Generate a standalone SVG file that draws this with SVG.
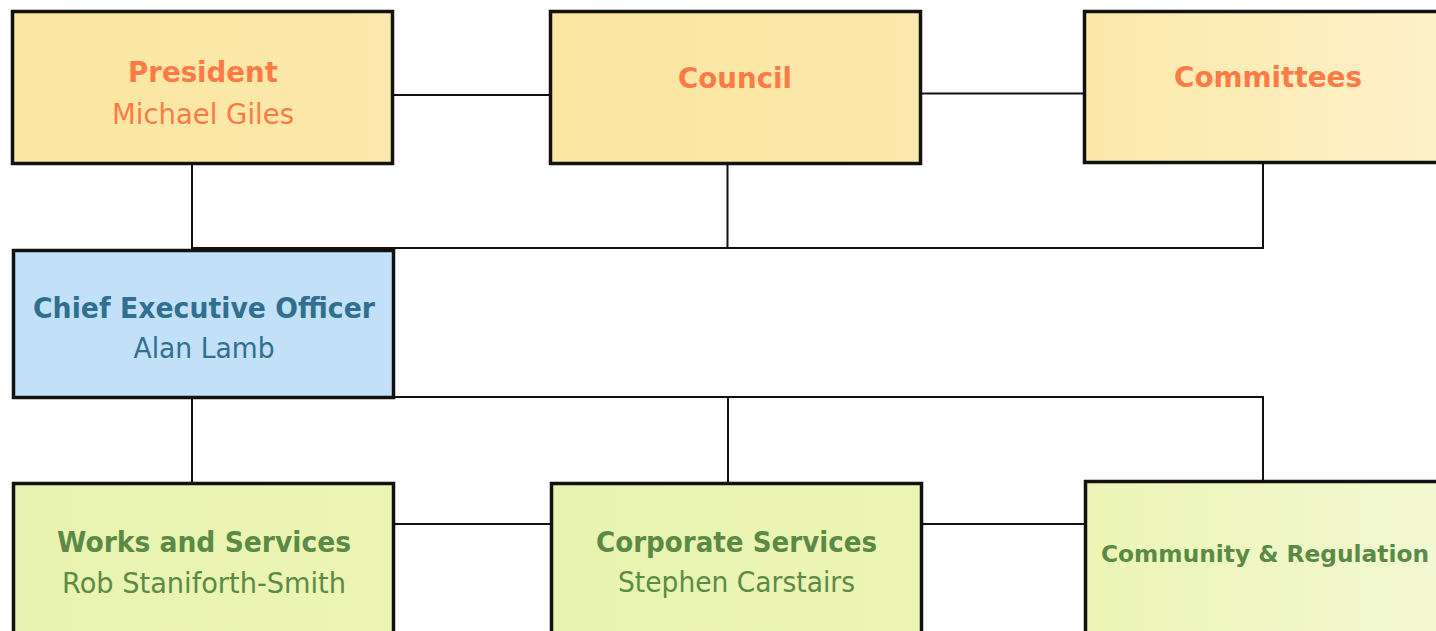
<svg xmlns="http://www.w3.org/2000/svg" width="1436" height="631" viewBox="0 0 1436 631">
<defs>
<linearGradient id="gy" x1="0" y1="0" x2="1" y2="0"><stop offset="0" stop-color="#fbe6a2"/><stop offset="1" stop-color="#fce9ab"/></linearGradient>
<linearGradient id="gy2" x1="0" y1="0" x2="1" y2="0"><stop offset="0" stop-color="#fce9a9"/><stop offset="1" stop-color="#fdf1c9"/></linearGradient>
<linearGradient id="gg" x1="0" y1="0" x2="1" y2="0"><stop offset="0" stop-color="#e9f3b0"/><stop offset="1" stop-color="#ecf5b4"/></linearGradient>
<linearGradient id="gg2" x1="0" y1="0" x2="1" y2="0"><stop offset="0" stop-color="#ecf5b6"/><stop offset="1" stop-color="#f3f8d2"/></linearGradient>
</defs>
<style>
.box{stroke:#111;stroke-width:3.5}
.conn line{stroke:#111;stroke-width:2}
text{font-family:"DejaVu Sans",Verdana,sans-serif;text-anchor:middle}
.b{font-weight:bold;font-size:29px}
.r{font-size:28px}
.o{fill:#ff7a45}
.bl{fill:#316f8e}
.gr{fill:#5b8a47}
</style>
<rect width="1436" height="631" fill="#ffffff"/>
<g id="connectors" class="conn">
<line x1="393" y1="95" x2="550" y2="95"/>
<line x1="921" y1="93.5" x2="1084" y2="93.5"/>
<line x1="192" y1="164" x2="192" y2="250"/>
<line x1="727.5" y1="164" x2="727.5" y2="248"/>
<line x1="1263" y1="163" x2="1263" y2="248"/>
<line x1="192" y1="248" x2="1264" y2="248"/>
<line x1="394" y1="397" x2="1264" y2="397"/>
<line x1="192" y1="397" x2="192" y2="483"/>
<line x1="728" y1="397" x2="728" y2="483"/>
<line x1="1263" y1="396" x2="1263" y2="481"/>
<line x1="394" y1="524" x2="551" y2="524"/>
<line x1="921" y1="524" x2="1085" y2="524"/>
</g>
<g id="president">
<rect class="box" x="12.5" y="11.5" width="380" height="152" fill="url(#gy)"/>
<text class="b o" x="203" y="82" textLength="150" lengthAdjust="spacingAndGlyphs">President</text>
<text class="r o" x="203" y="124" textLength="182" lengthAdjust="spacingAndGlyphs">Michael Giles</text>
</g>
<g id="council">
<rect class="box" x="550.5" y="11.5" width="370" height="152" fill="url(#gy)"/>
<text class="b o" x="735" y="88" textLength="114" lengthAdjust="spacingAndGlyphs">Council</text>
</g>
<g id="committees">
<rect class="box" x="1084.5" y="11.5" width="354" height="151" fill="url(#gy2)"/>
<text class="b o" x="1268" y="87" textLength="188" lengthAdjust="spacingAndGlyphs">Committees</text>
</g>
<g id="ceo">
<rect class="box" x="13.5" y="250.5" width="380" height="147" fill="#c3e0f9"/>
<text class="b bl" x="204" y="318" textLength="342" lengthAdjust="spacingAndGlyphs">Chief Executive Officer</text>
<text class="r bl" x="204" y="358" textLength="141" lengthAdjust="spacingAndGlyphs">Alan Lamb</text>
</g>
<g id="works">
<rect class="box" x="13.5" y="483.5" width="380" height="152" fill="url(#gg)"/>
<text class="b gr" x="204" y="552" textLength="294" lengthAdjust="spacingAndGlyphs">Works and Services</text>
<text class="r gr" x="204" y="593" textLength="284" lengthAdjust="spacingAndGlyphs">Rob Staniforth-Smith</text>
</g>
<g id="corporate">
<rect class="box" x="551.5" y="483.5" width="370" height="152" fill="url(#gg)"/>
<text class="b gr" x="736.5" y="552" textLength="281" lengthAdjust="spacingAndGlyphs">Corporate Services</text>
<text class="r gr" x="736.5" y="592" textLength="237" lengthAdjust="spacingAndGlyphs">Stephen Carstairs</text>
</g>
<g id="community">
<rect class="box" x="1085.5" y="481.5" width="353" height="154" fill="url(#gg2)"/>
<text class="gr" x="1265" y="562" font-weight="bold" font-size="23" textLength="328" lengthAdjust="spacingAndGlyphs">Community &amp; Regulation</text>
</g>
</svg>
